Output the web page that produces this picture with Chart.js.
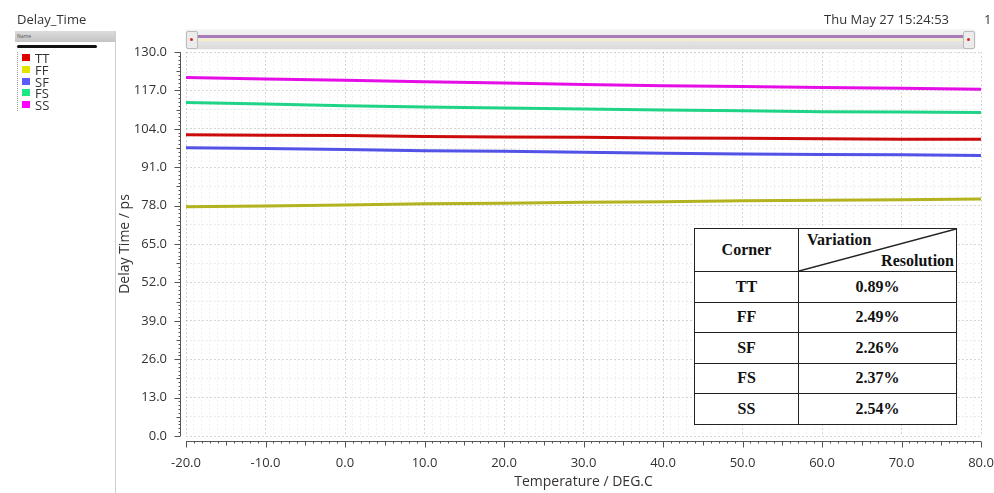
<!DOCTYPE html>
<html>
<head>
<meta charset="utf-8">
<script src="https://cdn.jsdelivr.net/npm/chart.js@4"></script>
<style>
  html, body { margin: 0; padding: 0; background: #fff; }
  body { width: 994px; height: 493px; position: relative; overflow: hidden; font-family: "Open Sans", sans-serif; color: #333; }
  #chart { position: absolute; left: 0; top: 0; }
  .abs { position: absolute; }
  #title { left: 17px; top: 10px; font-size: 13px; }
  #stamp { left: 800px; width: 149px; top: 10px; font-size: 13px; text-align: right; }
  #one { left: 984px; top: 10px; font-size: 13px; }
  #panel { left: 15px; top: 31px; width: 100px; height: 462px; border-right: 1px solid #cfcfcf; }
  #panel .head { height: 11px; background: linear-gradient(#dcdcdc, #c4c4c4); font-size: 5px; color: #555; padding-left: 2px; line-height: 11px; }
  #panel .bar { position: absolute; left: 2px; top: 14px; width: 80px; height: 3px; background: #111; border-radius: 2px; }
  #legend { position: absolute; left: 2px; top: 21px; border-left: 1px dotted #999; }
  #legend div { height: 11.8px; line-height: 12px; font-size: 13px; position: relative; padding-left: 17px; }
  #legend span { position: absolute; left: 4px; top: 2px; width: 8px; height: 7px; }
  #slider { left: 186px; top: 30px; width: 789px; height: 19px; border-radius: 3px; background: linear-gradient(#f4f4f4, #dadada); box-shadow: 0 0 1px #999; }
  #slider .p { position: absolute; left: 12px; right: 12px; top: 5px; height: 3px; background: #a87ab8; }
  #slider .y { position: absolute; left: 12px; right: 12px; top: 9px; height: 2px; background: #f2eec8; }
  #slider .h { position: absolute; top: 1px; width: 10px; height: 16px; background: #ececec; border: 1px solid #bbb; border-radius: 2px; }
  #slider .h i { position: absolute; left: 3px; top: 6px; width: 3px; height: 3px; background: #d22; border-radius: 2px; }
  #tbl { left: 694px; top: 228px; border-collapse: collapse; background: #fff; font-family: "Liberation Serif", "Times New Roman", serif; font-weight: bold; font-size: 16px; color: #111; }
  #tbl td { border: 1.5px solid #222; text-align: center; padding: 0; height: 29.5px; }
  #tbl tr:first-child td { height: 42px; }
  #diag { position: relative; width: 157px; height: 42px; }
  #diag svg { position: absolute; left: 0; top: 0; }
</style>
</head>
<body>
<canvas id="chart" width="994" height="493"></canvas>
<div id="title" class="abs">Delay_Time</div>
<div id="stamp" class="abs">Thu May 27 15:24:53</div>
<div id="one" class="abs">1</div>
<div id="panel" class="abs">
  <div class="head">Name</div>
  <div class="bar"></div>
  <div id="legend"></div>
</div>
<div id="slider" class="abs">
  <div class="p"></div><div class="y"></div>
  <div class="h" style="left:0"><i></i></div>
  <div class="h" style="right:0"><i></i></div>
</div>
<table id="tbl" class="abs"></table>

<script>
// data
const temps = [-20, -10, 0, 10, 20, 30, 40, 50, 60, 70, 80];
const tt = [102.0, 101.8, 101.7, 101.4, 101.2, 101.1, 100.9, 100.8, 100.6, 100.5, 100.5];
const ff = [77.6, 77.9, 78.2, 78.6, 78.8, 79.1, 79.3, 79.6, 79.8, 80.0, 80.2];
const sf = [97.6, 97.3, 97.0, 96.6, 96.4, 96.1, 95.7, 95.5, 95.3, 95.2, 95.0];
const fs = [112.9, 112.4, 111.8, 111.4, 111.0, 110.7, 110.4, 110.1, 109.8, 109.7, 109.5];
const ss = [121.4, 120.9, 120.4, 119.9, 119.5, 119.0, 118.6, 118.3, 118.0, 117.7, 117.4];

const seriesNames = ["TT", "FF", "SF", "FS", "SS"];
const seriesValues = [tt, ff, sf, fs, ss];
const lineColors = ["#cc0b0b", "#b3b320", "#5252e6", "#1fd486", "#e60ee6"];
const keyColors = ["#e00000", "#e4e400", "#5a5aff", "#1ee682", "#ff00ff"];

const xTickLabels = [-20, -10, 0, 10, 20, 30, 40, 50, 60, 70, 80];
const yTickLabels = [0, 13, 26, 39, 52, 65, 78, 91, 104, 117, 130];

const corners = ["TT", "FF", "SF", "FS", "SS"];
const resolution = ["0.89%", "2.49%", "2.26%", "2.37%", "2.54%"];

// legend panel
const legend = document.getElementById("legend");
seriesNames.forEach((name, i) => {
  const row = document.createElement("div");
  row.innerHTML = `<span style="background:${keyColors[i]}"></span>${name}`;
  legend.appendChild(row);
});

// table overlay
const tbl = document.getElementById("tbl");
let html = `<tr><td style="width:103px">Corner</td><td style="width:157px"><div id="diag">
  <svg width="157" height="42"><line x1="0" y1="42" x2="157" y2="0" stroke="#222" stroke-width="1.5"/></svg>
  <div style="position:absolute;left:8px;top:2px">Variation</div>
  <div style="position:absolute;right:2px;bottom:1px">Resolution</div></div></td></tr>`;
corners.forEach((c, i) => {
  html += `<tr><td>${c}</td><td>${resolution[i]}</td></tr>`;
});
tbl.innerHTML = html;

// axis lines with minor ticks, drawn off the chart scales
const axisPlugin = {
  id: "axisPlugin",
  afterDraw(chart) {
    const ctx = chart.ctx;
    const xs = chart.scales.x;
    const ys = chart.scales.y;
    ctx.save();
    ctx.strokeStyle = "#555";
    ctx.lineWidth = 1;
    // y axis
    const ax = 180.5;
    ctx.beginPath();
    ctx.moveTo(ax, ys.getPixelForValue(130));
    ctx.lineTo(ax, ys.getPixelForValue(0));
    for (let k = 0; k <= 100; k++) {
      const py = Math.round(ys.getPixelForValue(k * 1.3)) + 0.5;
      const len = k % 10 === 0 ? 6 : k % 5 === 0 ? 4 : 2;
      ctx.moveTo(ax, py);
      ctx.lineTo(ax - len, py);
    }
    ctx.stroke();
    // x axis
    const ay = 441.5;
    ctx.beginPath();
    ctx.moveTo(xs.getPixelForValue(-20), ay);
    ctx.lineTo(xs.getPixelForValue(80), ay);
    for (let v = -20; v <= 80; v++) {
      const px = Math.round(xs.getPixelForValue(v)) + 0.5;
      const len = v % 10 === 0 ? 6 : v % 5 === 0 ? 4 : 2;
      ctx.moveTo(px, ay);
      ctx.lineTo(px, ay + len);
    }
    ctx.stroke();
    ctx.restore();
  },
};

const tickFont = { family: "Open Sans", size: 13 };
const titleFont = { family: "Open Sans", size: 14 };

new Chart(document.getElementById("chart"), {
  type: "line",
  data: {
    datasets: seriesNames.map((name, i) => ({
      label: name,
      data: temps.map((t, j) => ({ x: t, y: seriesValues[i][j] })),
      borderColor: lineColors[i],
      borderWidth: 3,
      pointRadius: 0,
      tension: 0,
    })),
  },
  options: {
    responsive: false,
    animation: false,
    layout: { padding: { left: 115, right: 13, top: 52, bottom: 0 } },
    plugins: { legend: { display: false }, tooltip: { enabled: false } },
    scales: {
      x: {
        type: "linear",
        min: -20,
        max: 80,
        afterFit: (s) => {
          s.height = 57;
          s.paddingLeft = 0;
          s.paddingRight = 0;
        },
        ticks: {
          stepSize: 1,
          autoSkip: false,
          maxRotation: 0,
          padding: 19,
          color: "#333",
          font: tickFont,
          callback: (v) => (xTickLabels.includes(v) ? v.toFixed(1) : ""),
        },
        grid: {
          drawTicks: false,
          color: (c) => (c.tick && c.tick.value % 10 === 0 ? "rgba(0,0,0,0.16)" : "rgba(0,0,0,0.06)"),
        },
        border: { display: false, dash: [2, 2] },
        title: { display: true, text: "Temperature / DEG.C", color: "#333", font: titleFont, padding: 3 },
      },
      y: {
        min: 0,
        max: 130,
        afterFit: (s) => { s.width = 71; },
        ticks: {
          stepSize: 6.5,
          autoSkip: false,
          padding: 19,
          color: "#333",
          font: tickFont,
          callback: (v) => (yTickLabels.some((t) => Math.abs(t - v) < 1e-6) ? v.toFixed(1) : ""),
        },
        grid: {
          drawTicks: false,
          color: (c) => (c.tick && Math.abs(c.tick.value % 13) < 1e-6 ? "rgba(0,0,0,0.16)" : "rgba(0,0,0,0.07)"),
        },
        border: { display: false, dash: [2, 2] },
        title: { display: true, text: "Delay Time / ps", color: "#333", font: titleFont, padding: 2 },
      },
    },
  },
  plugins: [axisPlugin],
});
</script>
</body>
</html>
